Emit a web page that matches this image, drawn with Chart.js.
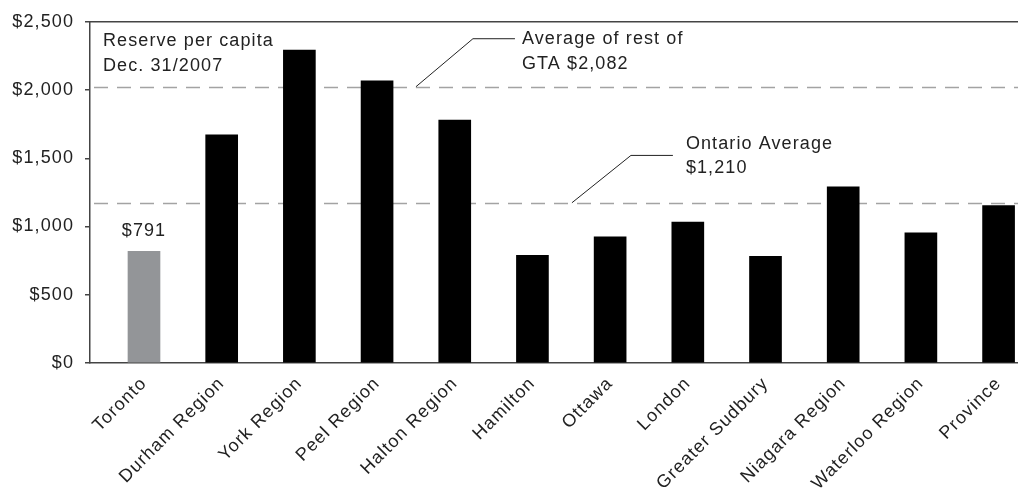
<!DOCTYPE html>
<html>
<head>
<meta charset="utf-8">
<script src="https://cdn.jsdelivr.net/npm/chart.js@4.4.1/dist/chart.umd.min.js"></script>
<style>
  html, body { margin: 0; padding: 0; background: #fff; }
  #wrap { width: 1018px; height: 491px; }
</style>
</head>
<body>
<div id="wrap"><canvas id="chart"></canvas></div>
<script>
const categories = ['Toronto', 'Durham Region', 'York Region', 'Peel Region', 'Halton Region', 'Hamilton',
  'Ottawa', 'London', 'Greater Sudbury', 'Niagara Region', 'Waterloo Region', 'Province'];
const reservePerCapita = [819, 1672, 2292, 2067, 1779, 788, 925, 1032, 781, 1291, 953, 1154];
const barColors = ['#939598', '#000', '#000', '#000', '#000', '#000', '#000', '#000', '#000', '#000', '#000', '#000'];
const yTicks = [0, 500, 1000, 1500, 2000, 2500];
const gtaAverageLine = 2024;      // where the dashed line sits in the picture
const ontarioAverageLine = 1174;
const torontoLabel = '$791';
const gtaLabel = ['Average of rest of', 'GTA $2,082'];
const ontarioLabel = ['Ontario Average', '$1,210'];
const titleLabel = ['Reserve per capita', 'Dec. 31/2007'];

const FONT = '"Liberation Sans", Arial, sans-serif';
const SPACING = '1.1px';
Chart.defaults.font.family = FONT;
Chart.defaults.font.size = 18;
Chart.defaults.color = '#222';

const money = v => '$' + Number(v).toLocaleString('en-US');

// draws the reference lines, callouts and notes, placed in data units
const annotations = {
  id: 'annotations',
  beforeInit(chart) { chart.ctx.letterSpacing = SPACING; },
  beforeLayout(chart) { chart.ctx.letterSpacing = SPACING; },
  beforeDraw(chart) { chart.ctx.letterSpacing = SPACING; },
  beforeDatasetsDraw(chart) {
    const { ctx, chartArea, scales: { y } } = chart;
    ctx.save();
    ctx.strokeStyle = '#a3a3a3';
    ctx.lineWidth = 1.5;
    ctx.setLineDash([14, 9]);
    [gtaAverageLine, ontarioAverageLine].forEach(v => {
      const py = Math.round(y.getPixelForValue(v)) + 0.5;
      ctx.beginPath();
      ctx.moveTo(chartArea.left + 4, py);
      ctx.lineTo(chartArea.right, py);
      ctx.stroke();
    });
    ctx.restore();
  },
  afterDatasetsDraw(chart) {
    const { ctx, chartArea, scales: { x, y } } = chart;
    const px = v => x.getPixelForValue(v);
    const py = v => y.getPixelForValue(v);
    ctx.save();
    ctx.letterSpacing = SPACING;

    // top frame line
    ctx.strokeStyle = '#444';
    ctx.lineWidth = 1.5;
    ctx.beginPath();
    ctx.moveTo(chartArea.left, chartArea.top);
    ctx.lineTo(chartArea.right, chartArea.top);
    ctx.stroke();

    // callout leaders
    ctx.strokeStyle = '#222';
    ctx.lineWidth = 1;
    const leader = pts => {
      ctx.beginPath();
      pts.forEach(([a, b], i) => i ? ctx.lineTo(px(a), py(b)) : ctx.moveTo(px(a), py(b)));
      ctx.stroke();
    };
    leader([[3.5, gtaAverageLine], [4.234, 2376], [4.775, 2376]]);
    leader([[5.508, ontarioAverageLine], [6.268, 1521], [6.808, 1521]]);

    ctx.fillStyle = '#222';
    ctx.font = '18px ' + FONT;
    ctx.textBaseline = 'middle';
    ctx.textAlign = 'left';
    ctx.fillText(titleLabel[0], px(-0.528), py(2358));
    ctx.fillText(titleLabel[1], px(-0.528), py(2178));
    ctx.fillText(gtaLabel[0], px(4.865), py(2376));
    ctx.fillText(gtaLabel[1], px(4.865), py(2189));
    ctx.fillText(ontarioLabel[0], px(6.975), py(1607));
    ctx.fillText(ontarioLabel[1], px(6.975), py(1427));
    ctx.textAlign = 'center';
    ctx.fillText(torontoLabel, px(0), py(968));
    ctx.restore();
  }
};

new Chart(document.getElementById('chart'), {
  type: 'bar',
  data: {
    datasets: [{
      data: reservePerCapita.map((v, i) => ({ x: i, y: v })),
      backgroundColor: barColors,
      barThickness: 32,
      borderWidth: 0
    }]
  },
  options: {
    responsive: true,
    maintainAspectRatio: false,
    animation: false,
    layout: { padding: { top: 15, right: 0, left: 0, bottom: 0 } },
    plugins: { legend: { display: false }, tooltip: { enabled: false } },
    scales: {
      x: {
        type: 'linear',
        offset: false,
        min: -0.695,
        max: 11.25,
        afterBuildTicks: s => { s.ticks = categories.map((c, i) => ({ value: i })); },
        grid: { display: false },
        border: { display: true, color: '#444', width: 1.5 },
        ticks: {
          autoSkip: false,
          minRotation: 45,
          maxRotation: 45,
          padding: 2,
          callback: v => categories[v] || ''
        },
        afterFit: s => { s.height = 128; }
      },
      y: {
        min: 0,
        max: 2500,
        afterBuildTicks: s => { s.ticks = yTicks.map(v => ({ value: v })); },
        grid: { drawOnChartArea: false, drawTicks: true, tickLength: 5, color: '#444', lineWidth: 1.5 },
        border: { display: true, color: '#444', width: 1.5 },
        ticks: { padding: 11, callback: money },
        afterFit: s => { s.width = 90; }
      }
    }
  },
  plugins: [annotations]
});
</script>
</body>
</html>
